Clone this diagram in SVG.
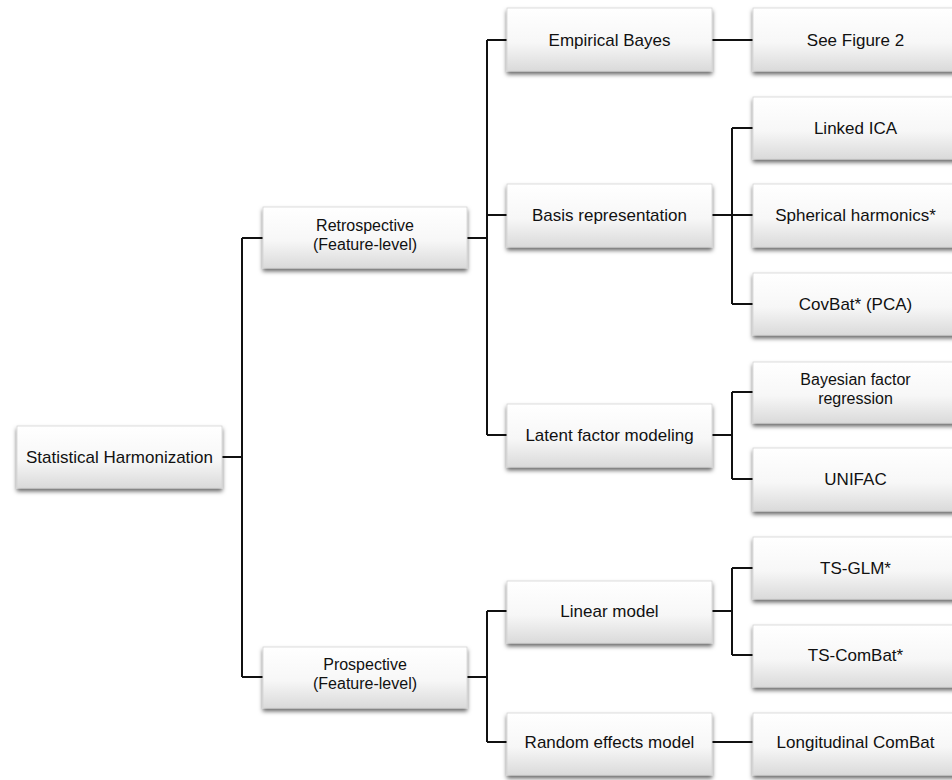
<svg xmlns="http://www.w3.org/2000/svg" width="952" height="780" viewBox="0 0 952 780">
<defs>
<linearGradient id="g" x1="0" y1="0" x2="0" y2="1">
<stop offset="0" stop-color="#ffffff"/>
<stop offset="0.55" stop-color="#f7f7f7"/>
<stop offset="1" stop-color="#dadada"/>
</linearGradient>
<filter id="sh" x="-10%" y="-20%" width="120%" height="150%">
<feDropShadow dx="0" dy="3" stdDeviation="2" flood-color="#000" flood-opacity="0.6"/>
</filter>
</defs>
<style>
.box{fill:url(#g);stroke:#d4d4d4;stroke-width:0.8;filter:url(#sh)}
.t{font-family:"Liberation Sans",Arial,Helvetica,sans-serif;font-size:17px;fill:#111;text-anchor:middle}
.t2{font-size:16px}
.c{fill:none;stroke:#111;stroke-width:2}
</style>
<rect width="952" height="780" fill="#fff"/>
<g id="connectors">
<path class="c" d="M222,457H242M242,238V677M242,238H263M242,677H263"/>
<path class="c" d="M467,238H487M487,40V435M487,40H507M487,215H507M487,435H507"/>
<path class="c" d="M467,677H487M487,611V742M487,611H507M487,742H507"/>
<path class="c" d="M712,40H753"/>
<path class="c" d="M712,215H753M732,128V304M732,128H753M732,304H753"/>
<path class="c" d="M712,435H732M732,392V479M732,392H753M732,479H753"/>
<path class="c" d="M712,611H732M732,568V655M732,568H753M732,655H753"/>
<path class="c" d="M712,742H753"/>
</g>
<g id="n-statistical-harmonization"><rect class="box" x="17" y="426" width="205" height="62"/><text class="t" x="119.5" y="463">Statistical Harmonization</text></g>
<g id="n-retrospective"><rect class="box" x="263" y="207" width="204" height="61"/><text class="t t2" x="365" y="231">Retrospective</text><text class="t t2" x="365" y="250">(Feature-level)</text></g>
<g id="n-prospective"><rect class="box" x="263" y="647" width="204" height="61"/><text class="t t2" x="365" y="670">Prospective</text><text class="t t2" x="365" y="689">(Feature-level)</text></g>
<g id="n-empirical-bayes"><rect class="box" x="507" y="8" width="205" height="63"/><text class="t" x="609.5" y="46">Empirical Bayes</text></g>
<g id="n-basis-representation"><rect class="box" x="507" y="184" width="205" height="63"/><text class="t" x="609.5" y="221">Basis representation</text></g>
<g id="n-latent-factor-modeling"><rect class="box" x="507" y="404" width="205" height="63"/><text class="t" x="609.5" y="441">Latent factor modeling</text></g>
<g id="n-linear-model"><rect class="box" x="507" y="581" width="205" height="62"/><text class="t" x="609.5" y="617">Linear model</text></g>
<g id="n-random-effects-model"><rect class="box" x="507" y="713" width="205" height="62"/><text class="t" x="609.5" y="748">Random effects model</text></g>
<g id="n-see-figure-2"><rect class="box" x="753" y="8" width="205" height="63"/><text class="t" x="855.5" y="46">See Figure 2</text></g>
<g id="n-linked-ica"><rect class="box" x="753" y="97" width="205" height="62"/><text class="t" x="855.5" y="134">Linked ICA</text></g>
<g id="n-spherical-harmonics"><rect class="box" x="753" y="184" width="205" height="63"/><text class="t" x="855.5" y="221">Spherical harmonics*</text></g>
<g id="n-covbat"><rect class="box" x="753" y="273" width="205" height="62"/><text class="t" x="855.5" y="310">CovBat* (PCA)</text></g>
<g id="n-bayesian-factor-regression"><rect class="box" x="753" y="362" width="205" height="61"/><text class="t t2" x="855.5" y="385">Bayesian factor</text><text class="t t2" x="855.5" y="404">regression</text></g>
<g id="n-unifac"><rect class="box" x="753" y="448" width="205" height="63"/><text class="t" x="855.5" y="485">UNIFAC</text></g>
<g id="n-ts-glm"><rect class="box" x="753" y="537" width="205" height="62"/><text class="t" x="855.5" y="574">TS-GLM*</text></g>
<g id="n-ts-combat"><rect class="box" x="753" y="625" width="205" height="62"/><text class="t" x="855.5" y="661">TS-ComBat*</text></g>
<g id="n-longitudinal-combat"><rect class="box" x="753" y="713" width="205" height="62"/><text class="t" x="855.5" y="748">Longitudinal ComBat</text></g>
</svg>
